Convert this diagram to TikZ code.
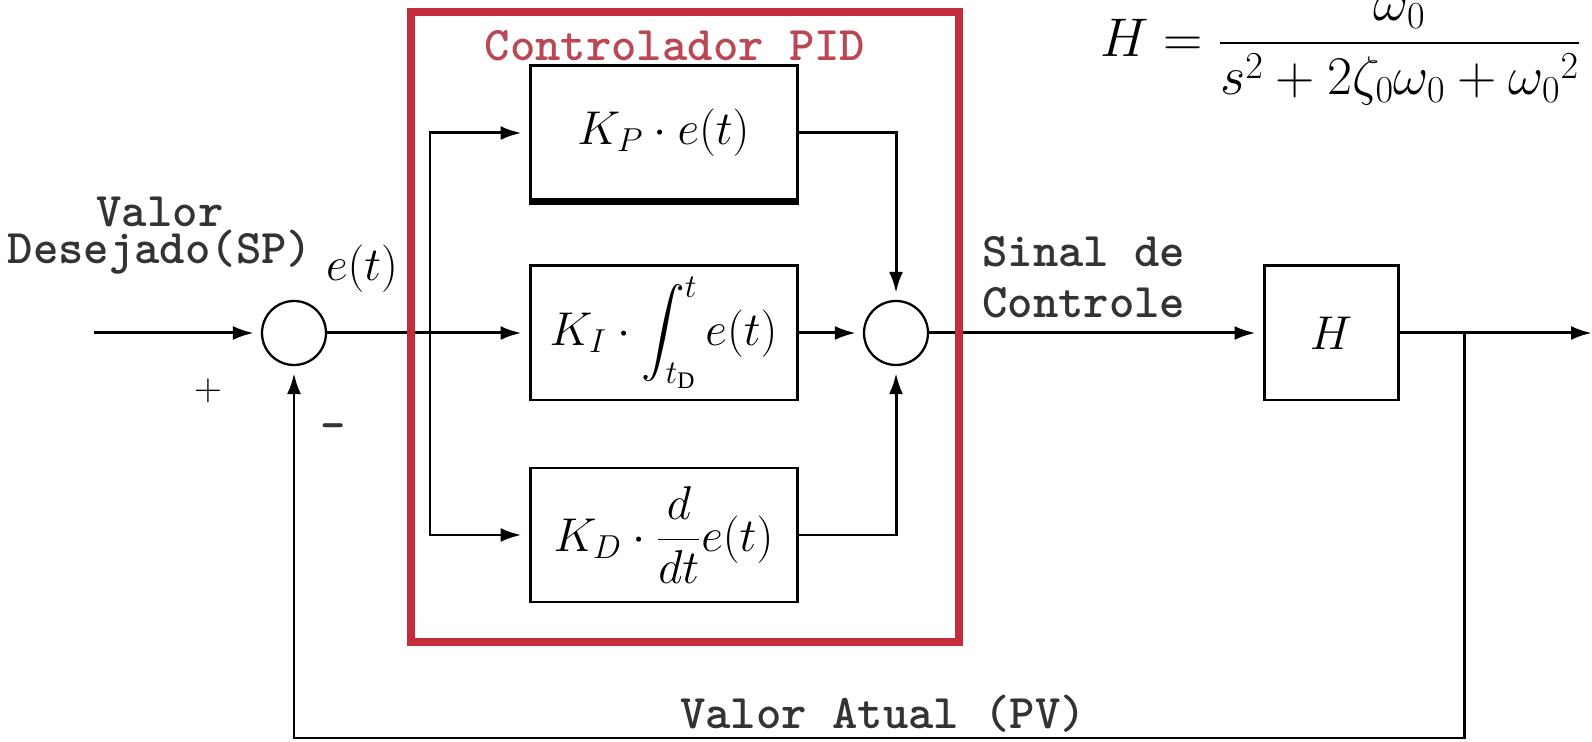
\RequirePackage{fix-cm}
\documentclass[tikz,border=0pt]{standalone}
\usepackage{amsmath}
\usepackage{fontspec}
\setmainfont{Liberation Serif}
\usetikzlibrary{arrows.meta}

\definecolor{pidred}{RGB}{196,46,60}
\definecolor{pidtext}{RGB}{186,72,84}

\begin{document}
\begin{tikzpicture}[
  every node/.style = {inner sep=0pt},
  block/.style = {draw, line width=1.7pt, minimum width=5.34cm, minimum height=2.68cm,
                  font=\fontsize{27}{32}\selectfont},
  sumnode/.style = {draw, circle, line width=1.3pt, minimum size=1.28cm},
  wire/.style = {line width=1.7pt},
  sig/.style = {wire, -{Latex[length=0.42cm, width=0.28cm]}, shorten >=0.14cm},
  lbl/.style = {font=\ttfamily\bfseries\fontsize{27.5}{21}\selectfont, text=black!80},
]
\useasboundingbox (0,0) rectangle (31.84,14.84);

%% -- Summing junctions and blocks -------------------------------------------
\node[sumnode] (sumA) at (5.88,8.18) {};
\node[sumnode] (sumB) at (17.92,8.18) {};

\node[block] (kp) at (13.27,12.18) {$K_{P}\cdot e(t)$};
\node[block] (ki) at (13.27,8.18)
  {$K_{I}\cdot\displaystyle\int_{t_{\mathrm{D}}}^{t} e(t)$};
\node[block] (kd) at (13.27,4.14) {$K_{D}\cdot\dfrac{d}{dt}e(t)$};
\draw[line width=3.6pt] (kp.south west) -- (kp.south east);

\node[block, minimum width=2.68cm] (plant) at (26.62,8.18) {$H$};

%% -- Free ends ----------------------------------------------------------------
\coordinate (src) at (1.88,8.18);
\coordinate (split) at (8.6,8.18);
\coordinate (tap) at (29.28,8.18);
\coordinate (out) at (31.84,8.18);
\coordinate (fb) at (17.6,0.08);

%% -- Signal paths -------------------------------------------------------------
\draw[sig] (src) -- (sumA.west);
\draw[wire] (sumA.east) -- (split);
\draw[sig] (split) -- (ki.west);
\draw[sig] (split) |- (kp.west);
\draw[sig] (split) |- (kd.west);
\draw[sig] (ki.east) -- (sumB.west);
\draw[sig] (kp.east) -| (sumB.north);
\draw[sig] (kd.east) -| (sumB.south);
\draw[sig] (sumB.east) -- (plant.west);
\draw[sig, shorten >=0pt] (plant.east) -- (out);
\draw[sig] (tap) |- (fb) -| (sumA.south);

%% -- PID frame ----------------------------------------------------------------
\node[draw=pidred, line width=4.5pt, minimum width=10.96cm, minimum height=12.6cm]
  (pid) at (13.7,8.3) {};
\node[lbl, text=pidtext] (title) at (13.5,13.92) {Controlador PID};

%% -- Labels -------------------------------------------------------------------
\node[lbl, align=center] (sp) at (3.2,10.12) {Valor\\Desejado(SP)};
\node[font=\fontsize{27}{32}\selectfont] (err) at (7.24,9.46) {$e(t)$};
\node[font=\fontsize{22}{26}\selectfont] (plus) at (4.16,7.02) {$+$};
\node[lbl] (minus) at (6.66,6.2) {-};
\node[lbl, align=left, anchor=west, font=\ttfamily\bfseries\fontsize{27.5}{29}\selectfont]
  (ctl) at (19.64,9.29) {Sinal de\\Controle};
\node[lbl] (pv) at (17.66,0.56) {Valor Atual (PV)};

%% -- Transfer function --------------------------------------------------------
\node[anchor=base west, font=\fontsize{31}{36}\selectfont] (eqH) at (22.0,13.7)
  {$H=\dfrac{\omega_0}{s^2+2\zeta_0\omega_0+{\omega_0}^2}$};

\end{tikzpicture}
\end{document}
